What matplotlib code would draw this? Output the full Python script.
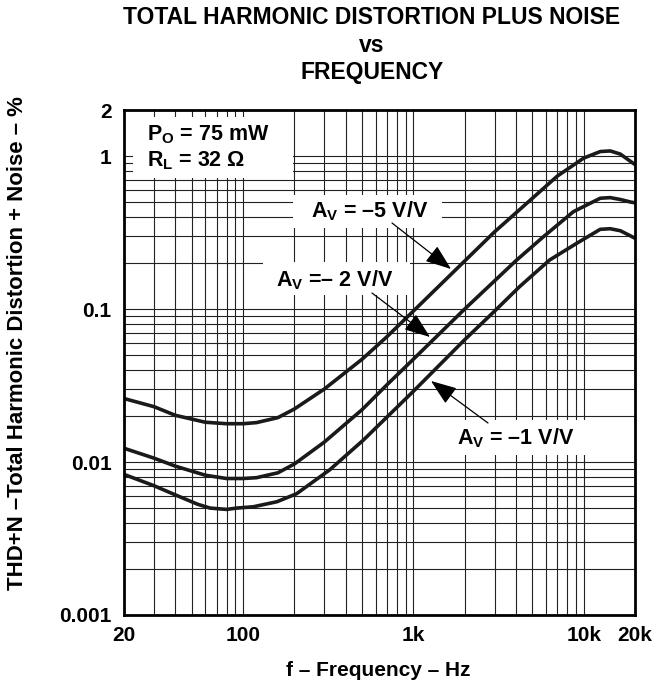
import matplotlib
matplotlib.use('Agg')
import matplotlib.pyplot as plt
from matplotlib.patches import Rectangle
from matplotlib.ticker import NullFormatter, FixedLocator

# data (f in Hz, THD+N in %)
av5_f = [20, 30, 40, 60, 80, 100, 120, 160, 200, 300, 500, 700, 1000, 2000, 3000,
         5000, 7000, 10000, 12500, 14300, 16400, 18900, 20000]
av5_thd = [0.026, 0.023, 0.0202, 0.0182, 0.0178, 0.0178, 0.0181, 0.0195, 0.0222, 0.030,
           0.047, 0.066, 0.097, 0.206, 0.32, 0.53, 0.74, 0.97, 1.07, 1.08, 1.03, 0.92, 0.88]

av2_f = [20, 30, 40, 60, 80, 100, 120, 160, 200, 300, 500, 700, 1000, 2000, 3000,
         4000, 5800, 8700, 12500, 14300, 16400, 18900, 20000]
av2_thd = [0.0123, 0.0106, 0.0094, 0.0082, 0.0078, 0.0078, 0.0079, 0.0085, 0.0097, 0.0135,
           0.022, 0.032, 0.047, 0.100, 0.153, 0.207, 0.297, 0.433, 0.53, 0.535, 0.52, 0.50, 0.495]

av1_f = [20, 30, 40, 54, 64, 80, 92, 115, 158, 206, 323, 508, 1000, 2000, 3000, 4200,
         6300, 9100, 12500, 14300, 16400, 18900, 20000]
av1_thd = [0.0083, 0.0070, 0.0061, 0.0053, 0.0050, 0.0049, 0.0050, 0.0051, 0.0055, 0.0062,
           0.0089, 0.0139, 0.029, 0.063, 0.097, 0.14, 0.209, 0.269, 0.332, 0.335, 0.325,
           0.30, 0.29]

x_ticks = [20, 100, 1000, 10000, 20000]
x_labels = ['20', '100', '1k', '10k', '20k']
y_ticks = [0.001, 0.01, 0.1, 1, 2]
y_labels = ['0.001', '0.01', '0.1', '1', '2']

plt.rcParams['font.family'] = ['Liberation Sans', 'DejaVu Sans']
plt.rcParams['font.weight'] = 'bold'
plt.rcParams['mathtext.fontset'] = 'custom'
plt.rcParams['mathtext.rm'] = 'Liberation Sans:bold'
plt.rcParams['mathtext.bf'] = 'Liberation Sans:bold'

W, H = 669, 687
fig = plt.figure(figsize=(W / 100, H / 100), dpi=100)
L, R, T, B = 124, 635, 110, 615
ax = fig.add_axes([L / W, 1 - B / H, (R - L) / W, (B - T) / H])


def frac(px, py):
    # pixel position in the picture -> axes fraction
    return ((px - L) / (R - L), (B - py) / (B - T))


ax.set_xscale('log')
ax.set_yscale('log')
ax.set_xlim(20, 20000)
ax.set_ylim(0.001, 2)

ax.xaxis.set_major_locator(FixedLocator(x_ticks))
ax.set_xticklabels(x_labels)
ax.yaxis.set_major_locator(FixedLocator(y_ticks))
ax.set_yticklabels(y_labels)
ax.xaxis.set_minor_formatter(NullFormatter())
ax.yaxis.set_minor_formatter(NullFormatter())
ax.tick_params(which='both', length=0, labelsize=15)
ax.tick_params(axis='x', pad=8)
ax.tick_params(axis='y', pad=9)
ax.grid(True, which='both', color='#222222', linewidth=0.8, zorder=0)
ax.set_axisbelow(True)
for s in ax.spines.values():
    s.set_linewidth(2)
    s.set_zorder(5)

for f, v in [(av5_f, av5_thd), (av2_f, av2_thd), (av1_f, av1_thd)]:
    ax.plot(f, v, color='#1a1a1a', linewidth=2.6, solid_capstyle='butt', zorder=3)

# white boxes behind the labels
boxes = [(133, 117, 293, 178), (293, 195, 442, 228), (263, 262, 410, 295), (443, 420, 588, 455)]
for x0, y0, x1, y1 in boxes:
    fx0, fy1 = frac(x0, y1)
    fx1, fy0 = frac(x1, y0)
    ax.add_patch(Rectangle((fx0, fy1), fx1 - fx0, fy0 - fy1, transform=ax.transAxes,
                           facecolor='white', edgecolor='none', zorder=2))

ax.text(*frac(147, 135), r'P$_\mathregular{O}$ = 75 mW', transform=ax.transAxes,
        fontsize=15.5, ha='left', va='center', zorder=4)
ax.text(*frac(147, 161), r'R$_\mathregular{L}$ = 32 Ω', transform=ax.transAxes,
        fontsize=15.5, ha='left', va='center', zorder=4)

labels = [('A$_\\mathregular{V}$ = –5 V/V', (370, 211), (392, 223), (451, 269)),
          ('A$_\\mathregular{V}$ =– 2 V/V', (335, 280), (372, 293), (430, 337)),
          ('A$_\\mathregular{V}$ = –1 V/V', (516, 438), (488, 423), (431, 381))]
for txt, pos, tail, head in labels:
    ax.text(*frac(*pos), txt, transform=ax.transAxes, fontsize=15.5,
            ha='center', va='center', zorder=4)
    ax.annotate('', xy=frac(*head), xytext=frac(*tail), xycoords='axes fraction',
                arrowprops=dict(arrowstyle='-|>,head_length=0.8,head_width=0.3',
                                color='black', lw=0.9, mutation_scale=20,
                                shrinkA=0, shrinkB=0), zorder=4)

fig.text(372 / W, 1 - 18 / H, 'TOTAL HARMONIC DISTORTION PLUS NOISE', ha='center',
         va='center', fontsize=16.5)
fig.text(372 / W, 1 - 45 / H, 'vs', ha='center', va='center', fontsize=16.5)
fig.text(372 / W, 1 - 73 / H, 'FREQUENCY', ha='center', va='center', fontsize=16.5)

fig.text(378 / W, 1 - 670 / H, 'f – Frequency – Hz', ha='center', va='center', fontsize=15)
fig.text(18 / W, 1 - 343 / H, 'THD+N –Total Harmonic Distortion + Noise – %',
         ha='center', va='center', rotation=90, fontsize=16)

fig.savefig('out.png', dpi=100)
